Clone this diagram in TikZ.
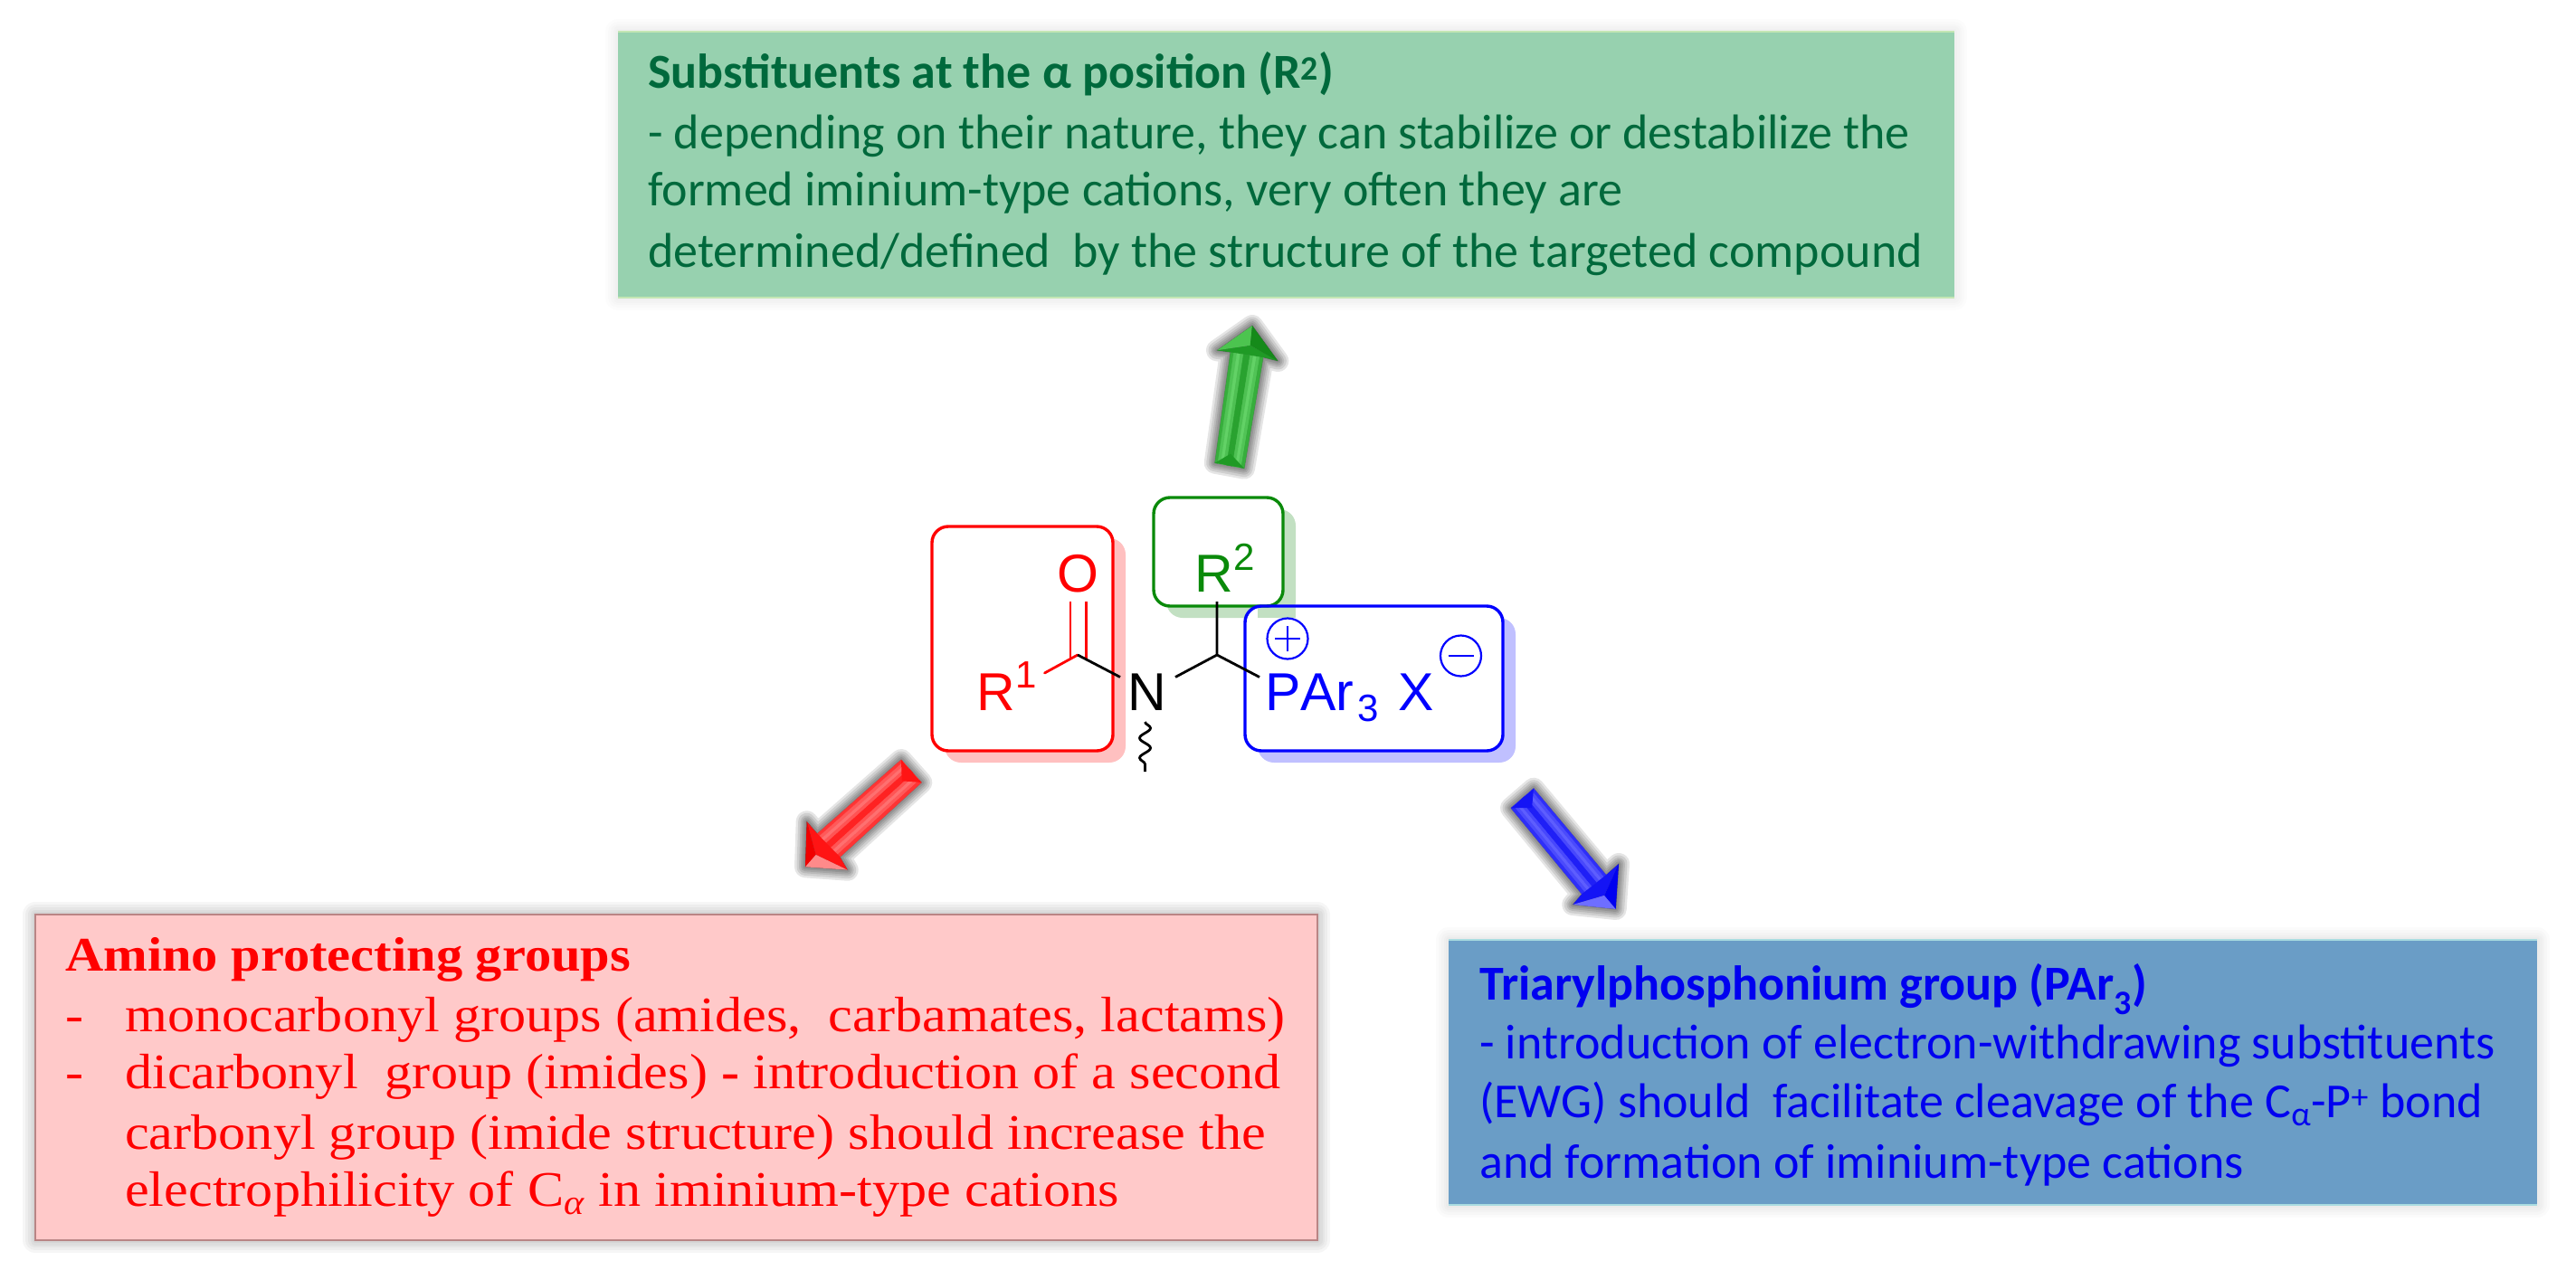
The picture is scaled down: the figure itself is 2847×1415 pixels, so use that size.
\documentclass[tikz,border=0pt]{standalone}
\usepackage{fontspec}
\usetikzlibrary{calc,decorations.pathmorphing}
\setmainfont{Carlito}
\newfontfamily\chemfont[Kerning=Off]{Liberation Sans}
\newfontfamily\palfont[FakeStretch=1.095]{Liberation Serif}
\definecolor{gfill}{HTML}{97D1AF}\definecolor{gedge}{HTML}{C4E6B4}\definecolor{gtext}{HTML}{00693C}
\definecolor{rfill}{HTML}{FFC9C9}\definecolor{redge}{HTML}{B98585}\definecolor{rtext}{HTML}{FF0000}
\definecolor{bfill}{HTML}{6A9DC6}\definecolor{bedge}{HTML}{A9DCE0}\definecolor{btext}{HTML}{0000F0}
\definecolor{molgreen}{HTML}{0A8A0A}\definecolor{molred}{HTML}{FF0000}\definecolor{molblue}{HTML}{0000FF}
\definecolor{gshade}{HTML}{C2E0C2}\definecolor{rshade}{HTML}{FFC0C0}\definecolor{bshade}{HTML}{C0C0FF}
\definecolor{agd}{HTML}{1F9A25}\definecolor{agl}{HTML}{62D266}\definecolor{agh}{HTML}{4CC44F}\definecolor{agk}{HTML}{158A1A}
\definecolor{ard}{HTML}{FF1414}\definecolor{arl}{HTML}{FF7070}\definecolor{arh}{HTML}{FF8A8A}\definecolor{ark}{HTML}{F00000}
\definecolor{abd}{HTML}{1414F5}\definecolor{abl}{HTML}{5E5EFF}\definecolor{abh}{HTML}{6E6EFF}\definecolor{abk}{HTML}{0000F0}
\tikzset{
  x=1pt,y=-1pt,
  infobox/.style={anchor=north west,inner sep=0pt,outer sep=0pt},
  edgeline/.style={line width=2.5pt},
  gline/.style={anchor=base west,inner sep=0pt,text=gtext,font=\fontsize{54}{60}\selectfont},
  rline/.style={anchor=base west,inner sep=0pt,text=rtext,font=\palfont\fontsize{55}{60}\selectfont},
  rhead/.style={anchor=base west,inner sep=0pt,text=rtext,font=\palfont\bfseries\fontsize{53.4}{60}\selectfont},
  bline/.style={anchor=base west,inner sep=0pt,text=btext,font=\fontsize{54}{60}\selectfont},
  atom/.style={inner sep=0pt,outer sep=0pt,anchor=base west,font=\chemfont\fontsize{59}{60}\selectfont},
  supatom/.style={inner sep=0pt,outer sep=0pt,anchor=base west,font=\chemfont\fontsize{42}{44}\selectfont},
  molbox/.style={anchor=north west,inner sep=0pt,outer sep=0pt,rounded corners=18pt,line width=3.4pt,draw},
  shadebox/.style={anchor=north west,inner sep=0pt,outer sep=0pt,rounded corners=18pt,fill},
  bond/.style={line width=2.8pt,black},
  chargering/.style={circle,draw=molblue,line width=2.2pt,minimum size=45pt,inner sep=0pt},
}
\newcommand{\softhalo}[5]{%
  \foreach \w in {28,22,16,11,6}{\draw[line width=\w pt,black,opacity=#5,line join=round] (#1,#2) rectangle (#3,#4);}}
\newcommand{\blockarrow}[9]{%
  \coordinate (tl) at #1;\coordinate (tr) at #2;\coordinate (jl) at #3;\coordinate (jr) at #4;
  \coordinate (wl) at #5;\coordinate (wr) at #6;\coordinate (tp) at #7;\coordinate (ta) at #8;\coordinate (ha) at #9;
  \blockarrowb}
\newcommand{\blockarrowb}[6]{%
  \begin{scope}[shift={(#5,#6)}]
  \foreach \w in {24,19,14,10,6,2}{\path[fill=black,draw=black,line width=\w pt,line join=round,opacity=.1]
     (tl)--(jl)--(wl)--(tp)--(wr)--(jr)--(tr)--cycle;}
  \end{scope}
  \foreach \f/\g/\m in {0/.1/35,.1/.2/75,.2/.3/100,.3/.4/70,.4/.5/15,.5/.6/15,.6/.7/70,.7/.8/100,.8/.9/75,.9/1/35}{
    \fill[#2!\m!#1,draw=#2!\m!#1,line width=.4pt] ($(tl)!\f!(tr)$)--($(tl)!\g!(tr)$)--($(jl)!\g!(jr)$)--($(jl)!\f!(jr)$)--cycle;}
  \fill[#1] (tl)--(tr)--(ta)--cycle;
  \fill[#1] (wl)--(ha)--(wr)--(jr)--(jl)--cycle;
  \fill[#4] (wl)--(tp)--(ha)--cycle;
  \fill[#3] (wr)--(tp)--(ha)--cycle;
}
\begin{document}
\begin{tikzpicture}
\useasboundingbox (0,0) rectangle (2847,1415);
% info boxes
\softhalo{683}{35}{2160}{329}{.012}
\softhalo{1601}{1039}{2804}{1332}{.014}
\softhalo{39}{1011}{1456}{1371}{.035}
\node[infobox,fill=gfill,minimum width=1477pt,minimum height=294pt] (greenbox) at (683,35) {};
\node[infobox,fill=rfill,draw=redge,line width=2pt,minimum width=1417pt,minimum height=360pt] (redbox) at (39,1011) {};
\node[infobox,fill=bfill,minimum width=1203pt,minimum height=293pt] (bluebox) at (1601,1039) {};
\draw[edgeline,gedge] (greenbox.north west)--(greenbox.north east) (greenbox.south west)--(greenbox.south east);
\draw[edgeline,bedge] (bluebox.north west)--(bluebox.north east) (bluebox.south west)--(bluebox.south east);
% green text
\node[gline] (g1) at (716,98) {\bfseries Substituents at the α position (R\textsuperscript{2})};
\node[gline] (g2) at (716,165) {- depending on their nature, they can stabilize or destabilize the};
\node[gline] (g3) at (716,228) {formed iminium-type cations, very often they are};
\node[gline] (g4) at (716,295) {determined/defined~ by the structure of the targeted compound};
% red text
\node[rhead] (r1) at (72,1073) {Amino protecting groups};
\node[rline] (r2a) at (72,1140) {-};
\node[rline] (r2) at (138,1140) {monocarbonyl groups (amides,~ carbamates, lactams)};
\node[rline] (r3a) at (72,1203) {-};
\node[rline] (r3) at (138,1203) {dicarbonyl~ group (imides) \textbf{-} introduction of a second};
\node[rline] (r4) at (138,1270) {carbonyl group (imide structure) should increase the};
\node[rline] (r5) at (138,1333) {electrophilicity of C\textsubscript{\textit{α}} in iminium-type cations};
% blue text
\node[bline] (b1) at (1635,1105) {\bfseries Triarylphosphonium group (PAr\textsubscript{3})};
\node[bline] (b2) at (1635,1170) {- introduction of electron-withdrawing substituents};
\node[bline] (b3) at (1635,1235) {(EWG) should~ facilitate cleavage of the C\textsubscript{α}-P\textsuperscript{+} bond};
\node[bline] (b4) at (1635,1302) {and formation of iminium-type cations};
% molecule boxes
\node[shadebox,fill=gshade,minimum width=143pt,minimum height=120pt] (gshadow) at (1289,563) {};
\node[shadebox,fill=rshade,minimum width=200pt,minimum height=248pt] (rshadow) at (1044,595) {};
\node[shadebox,fill=bshade,minimum width=285pt,minimum height=160pt] (bshadow) at (1390,683) {};
\node[shadebox,fill=white,minimum width=200pt,minimum height=248pt] (rinner) at (1030,582) {};
\node[shadebox,fill=white,minimum width=285pt,minimum height=160pt] (binner) at (1376,670) {};
\node[shadebox,fill=white,minimum width=143pt,minimum height=120pt] (ginner) at (1275,550) {};
\fill[gshade] (1390,670) rectangle (1432,683);
\node[molbox,draw=molgreen,minimum width=143pt,minimum height=120pt] (r2box) at (1275,550) {};
\node[molbox,draw=molred,minimum width=200pt,minimum height=248pt] (r1box) at (1030,582) {};
\node[molbox,draw=molblue,minimum width=285pt,minimum height=160pt] (arbox) at (1376,670) {};
% atoms
\node[atom,text=molred] (O) at (1168.5,654) {O};
\node[atom,text=molred] (R1) at (1079,785) {R};
\node[supatom,text=molred] (sup1) at (1122,760.6) {1};
\node[atom,text=black] (N) at (1246,785) {N};
\node[atom,text=molgreen] (R2) at (1320,654) {R};
\node[supatom,text=molgreen] (sup2) at (1363,630.5) {2};
\node[atom,text=molblue] (PAr) at (1398,785) {PAr};
\node[supatom,text=molblue] (sub3) at (1500,797.5) {3};
\node[atom,text=molblue] (X) at (1545,785) {X};
\node[chargering] (plus) at (1423,706) {};
\node[chargering] (minus) at (1614.5,725) {};
\draw[molblue,line width=2.4pt] ($(plus)+(-14,0)$)--($(plus)+(14,0)$) ($(plus)+(0,-14)$)--($(plus)+(0,14)$);
\draw[molblue,line width=2.4pt] ($(minus)+(-14,0)$)--($(minus)+(14,0)$);
% bonds
\coordinate (cc) at (1191,724);\coordinate (ca) at (1345,724);
\coordinate (rb) at (1154.5,744);\coordinate (nl) at (1238,748.5);\coordinate (nr) at (1299,748.5);
\coordinate (pb) at (1392,748.5);\coordinate (r2b) at (1345,665);
\coordinate (o1) at (1183,665);\coordinate (o2) at (1200.5,665);\coordinate (c1) at (1183,728);\coordinate (c2) at (1200.5,728);
\coordinate (wa) at (1265.5,798);\coordinate (wb) at (1265.5,853);
\draw[bond,molred,line cap=round] (cc)--(rb);
\draw[bond,molred] (o1)--(c1) (o2)--(c2);
\draw[bond,line join=miter] (nl)--(cc);
\draw[bond,line join=miter] (nr)--(ca)--(pb) (ca)--(r2b);
\draw[line width=2.8pt,black,decorate,decoration={snake,segment length=22pt,amplitude=6pt}] (wa)--(wb);
% block arrows
\blockarrow{(1342.7,511.7)}{(1375,517.7)}{(1360,389.3)}{(1396,395)}{(1345,387.3)}{(1412.3,399)}{(1384,360)}{(1360,501.7)}{(1381.7,381.7)}{agd}{agl}{agk}{agh}{-20}{6}
\blockarrow{(996,840)}{(1018.3,865)}{(903.3,921.7)}{(928.3,947.3)}{(891.7,908.3)}{(936.7,961.7)}{(890,958.3)}{(996.7,863.3)}{(901.7,945)}{ard}{arl}{arh}{ark}{-16}{-16}
\blockarrow{(1695,871.7)}{(1670,893.3)}{(1775,967.3)}{(1748.3,988.3)}{(1789,955)}{(1738.3,1000)}{(1785.7,1005)}{(1693,893)}{(1773,990)}{abd}{abl}{abh}{abk}{-16}{14}
\end{tikzpicture}
\end{document}
